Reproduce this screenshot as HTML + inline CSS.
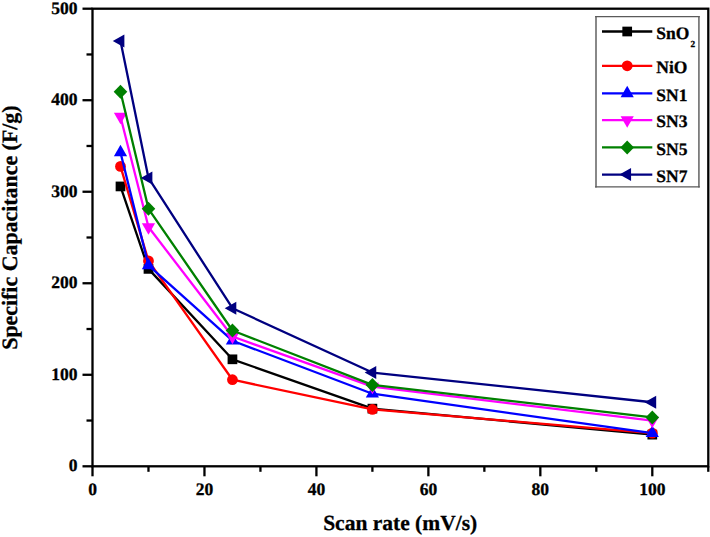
<!DOCTYPE html>
<html><head><meta charset="utf-8"><style>
html,body{margin:0;padding:0;background:#fff;width:710px;height:537px;overflow:hidden}
svg{display:block}
text{text-rendering:geometricPrecision;stroke:#000;stroke-width:0.3px}
.t{font-family:"Liberation Serif",serif;font-weight:bold;font-size:17.5px;fill:#000}
.a{font-family:"Liberation Serif",serif;font-weight:bold;font-size:21.5px;fill:#000}
.ay{font-family:"Liberation Serif",serif;font-weight:bold;font-size:21.9px;fill:#000}
</style></head><body>
<svg width="710" height="537" viewBox="0 0 710 537">
<rect x="92.5" y="8.7" width="615.80" height="457.60" fill="none" stroke="#000" stroke-width="2.3"/>
<line x1="92.50" y1="466.3" x2="92.50" y2="476.3" stroke="#000" stroke-width="2.3"/>
<line x1="148.48" y1="466.3" x2="148.48" y2="471.8" stroke="#000" stroke-width="2.3"/>
<line x1="204.46" y1="466.3" x2="204.46" y2="476.3" stroke="#000" stroke-width="2.3"/>
<line x1="260.44" y1="466.3" x2="260.44" y2="471.8" stroke="#000" stroke-width="2.3"/>
<line x1="316.42" y1="466.3" x2="316.42" y2="476.3" stroke="#000" stroke-width="2.3"/>
<line x1="372.40" y1="466.3" x2="372.40" y2="471.8" stroke="#000" stroke-width="2.3"/>
<line x1="428.38" y1="466.3" x2="428.38" y2="476.3" stroke="#000" stroke-width="2.3"/>
<line x1="484.36" y1="466.3" x2="484.36" y2="471.8" stroke="#000" stroke-width="2.3"/>
<line x1="540.34" y1="466.3" x2="540.34" y2="476.3" stroke="#000" stroke-width="2.3"/>
<line x1="596.32" y1="466.3" x2="596.32" y2="471.8" stroke="#000" stroke-width="2.3"/>
<line x1="652.30" y1="466.3" x2="652.30" y2="476.3" stroke="#000" stroke-width="2.3"/>
<line x1="708.28" y1="466.3" x2="708.28" y2="471.8" stroke="#000" stroke-width="2.3"/>
<line x1="82.5" y1="466.30" x2="92.5" y2="466.30" stroke="#000" stroke-width="2.3"/>
<line x1="86.5" y1="420.54" x2="92.5" y2="420.54" stroke="#000" stroke-width="2.3"/>
<line x1="82.5" y1="374.78" x2="92.5" y2="374.78" stroke="#000" stroke-width="2.3"/>
<line x1="86.5" y1="329.02" x2="92.5" y2="329.02" stroke="#000" stroke-width="2.3"/>
<line x1="82.5" y1="283.26" x2="92.5" y2="283.26" stroke="#000" stroke-width="2.3"/>
<line x1="86.5" y1="237.50" x2="92.5" y2="237.50" stroke="#000" stroke-width="2.3"/>
<line x1="82.5" y1="191.74" x2="92.5" y2="191.74" stroke="#000" stroke-width="2.3"/>
<line x1="86.5" y1="145.98" x2="92.5" y2="145.98" stroke="#000" stroke-width="2.3"/>
<line x1="82.5" y1="100.22" x2="92.5" y2="100.22" stroke="#000" stroke-width="2.3"/>
<line x1="86.5" y1="54.46" x2="92.5" y2="54.46" stroke="#000" stroke-width="2.3"/>
<line x1="82.5" y1="8.70" x2="92.5" y2="8.70" stroke="#000" stroke-width="2.3"/>
<text x="92.50" y="494.5" text-anchor="middle" class="t">0</text>
<text x="204.46" y="494.5" text-anchor="middle" class="t">20</text>
<text x="316.42" y="494.5" text-anchor="middle" class="t">40</text>
<text x="428.38" y="494.5" text-anchor="middle" class="t">60</text>
<text x="540.34" y="494.5" text-anchor="middle" class="t">80</text>
<text x="652.30" y="494.5" text-anchor="middle" class="t">100</text>
<text x="77.5" y="471.20" text-anchor="end" class="t">0</text>
<text x="77.5" y="379.68" text-anchor="end" class="t">100</text>
<text x="77.5" y="288.16" text-anchor="end" class="t">200</text>
<text x="77.5" y="196.64" text-anchor="end" class="t">300</text>
<text x="77.5" y="105.12" text-anchor="end" class="t">400</text>
<text x="77.5" y="13.60" text-anchor="end" class="t">500</text>
<text x="400.2" y="529.8" text-anchor="middle" class="a">Scan rate (mV/s)</text>
<text transform="translate(17.4,227.6) rotate(-90)" text-anchor="middle" class="ay">Specific Capacitance (F/g)</text>
<polyline points="120.49,186.43 148.48,268.89 232.45,359.31 372.40,408.64 652.30,434.63" fill="none" stroke="#000000" stroke-width="2.3" stroke-linejoin="round"/>
<rect x="115.64" y="181.58" width="9.7" height="9.7" fill="#000000"/>
<rect x="143.63" y="264.04" width="9.7" height="9.7" fill="#000000"/>
<rect x="227.60" y="354.46" width="9.7" height="9.7" fill="#000000"/>
<rect x="367.55" y="403.79" width="9.7" height="9.7" fill="#000000"/>
<rect x="647.45" y="429.78" width="9.7" height="9.7" fill="#000000"/>
<polyline points="120.49,166.39 148.48,260.93 232.45,379.72 372.40,409.47 652.30,433.17" fill="none" stroke="#ff0000" stroke-width="2.3" stroke-linejoin="round"/>
<circle cx="120.49" cy="166.39" r="5.4" fill="#ff0000"/>
<circle cx="148.48" cy="260.93" r="5.4" fill="#ff0000"/>
<circle cx="232.45" cy="379.72" r="5.4" fill="#ff0000"/>
<circle cx="372.40" cy="409.47" r="5.4" fill="#ff0000"/>
<circle cx="652.30" cy="433.17" r="5.4" fill="#ff0000"/>
<polyline points="120.49,152.48 148.48,265.41 232.45,340.73 372.40,393.72 652.30,433.17" fill="none" stroke="#0000ff" stroke-width="2.3" stroke-linejoin="round"/>
<polygon points="120.49,144.81 127.09,156.31 113.89,156.31" fill="#0000ff"/>
<polygon points="148.48,257.75 155.08,269.25 141.88,269.25" fill="#0000ff"/>
<polygon points="232.45,333.07 239.05,344.57 225.85,344.57" fill="#0000ff"/>
<polygon points="372.40,386.06 379.00,397.56 365.80,397.56" fill="#0000ff"/>
<polygon points="652.30,425.50 658.90,437.00 645.70,437.00" fill="#0000ff"/>
<polyline points="120.49,116.69 148.48,227.07 232.45,336.52 372.40,386.68 652.30,420.54" fill="none" stroke="#ff00ff" stroke-width="2.3" stroke-linejoin="round"/>
<polygon points="120.49,124.36 127.09,112.86 113.89,112.86" fill="#ff00ff"/>
<polygon points="148.48,234.73 155.08,223.23 141.88,223.23" fill="#ff00ff"/>
<polygon points="232.45,344.19 239.05,332.69 225.85,332.69" fill="#ff00ff"/>
<polygon points="372.40,394.34 379.00,382.84 365.80,382.84" fill="#ff00ff"/>
<polygon points="652.30,428.21 658.90,416.71 645.70,416.71" fill="#ff00ff"/>
<polyline points="120.49,91.71 148.48,208.85 232.45,330.48 372.40,384.94 652.30,417.43" fill="none" stroke="#008000" stroke-width="2.3" stroke-linejoin="round"/>
<polygon points="120.49,84.71 127.29,91.71 120.49,98.71 113.69,91.71" fill="#008000"/>
<polygon points="148.48,201.85 155.28,208.85 148.48,215.85 141.68,208.85" fill="#008000"/>
<polygon points="232.45,323.48 239.25,330.48 232.45,337.48 225.65,330.48" fill="#008000"/>
<polygon points="372.40,377.94 379.20,384.94 372.40,391.94 365.60,384.94" fill="#008000"/>
<polygon points="652.30,410.43 659.10,417.43 652.30,424.43 645.50,417.43" fill="#008000"/>
<polyline points="120.49,41.01 148.48,177.92 232.45,308.24 372.40,372.58 652.30,402.24" fill="none" stroke="#000080" stroke-width="2.3" stroke-linejoin="round"/>
<polygon points="112.76,41.01 124.36,34.51 124.36,47.51" fill="#000080"/>
<polygon points="140.75,177.92 152.35,171.42 152.35,184.42" fill="#000080"/>
<polygon points="224.72,308.24 236.32,301.74 236.32,314.74" fill="#000080"/>
<polygon points="364.67,372.58 376.27,366.08 376.27,379.08" fill="#000080"/>
<polygon points="644.57,402.24 656.17,395.74 656.17,408.74" fill="#000080"/>
<rect x="596" y="16.7" width="102.9" height="170.2" fill="#fff"/>
<path d="M596,16.2V187.4M698.9,16.2V187.4" stroke="#7c7c7c" stroke-width="1.8" fill="none"/>
<path d="M595.1,16.65H699.8M595.1,186.9H699.8" stroke="#5a5a5a" stroke-width="1.4" fill="none"/>
<line x1="602" y1="31.5" x2="652.3" y2="31.5" stroke="#000000" stroke-width="2.3"/>
<rect x="622.35" y="26.65" width="9.7" height="9.7" fill="#000000"/>
<text x="656.3" y="38.90" class="t">SnO<tspan font-size="9.3" dx="1.0" dy="8.4">2</tspan></text>
<line x1="602" y1="65.8" x2="652.3" y2="65.8" stroke="#ff0000" stroke-width="2.3"/>
<circle cx="627.20" cy="65.80" r="5.4" fill="#ff0000"/>
<text x="656.3" y="73.00" class="t">NiO</text>
<line x1="602" y1="93.4" x2="652.3" y2="93.4" stroke="#0000ff" stroke-width="2.3"/>
<polygon points="627.20,85.73 633.80,97.23 620.60,97.23" fill="#0000ff"/>
<text x="656.3" y="100.60" class="t">SN1</text>
<line x1="602" y1="120.2" x2="652.3" y2="120.2" stroke="#ff00ff" stroke-width="2.3"/>
<polygon points="627.20,127.87 633.80,116.37 620.60,116.37" fill="#ff00ff"/>
<text x="656.3" y="127.40" class="t">SN3</text>
<line x1="602" y1="147.4" x2="652.3" y2="147.4" stroke="#008000" stroke-width="2.3"/>
<polygon points="627.20,140.40 634.00,147.40 627.20,154.40 620.40,147.40" fill="#008000"/>
<text x="656.3" y="154.60" class="t">SN5</text>
<line x1="602" y1="174.6" x2="652.3" y2="174.6" stroke="#000080" stroke-width="2.3"/>
<polygon points="619.47,174.60 631.07,168.10 631.07,181.10" fill="#000080"/>
<text x="656.3" y="181.80" class="t">SN7</text>
</svg>
</body></html>
